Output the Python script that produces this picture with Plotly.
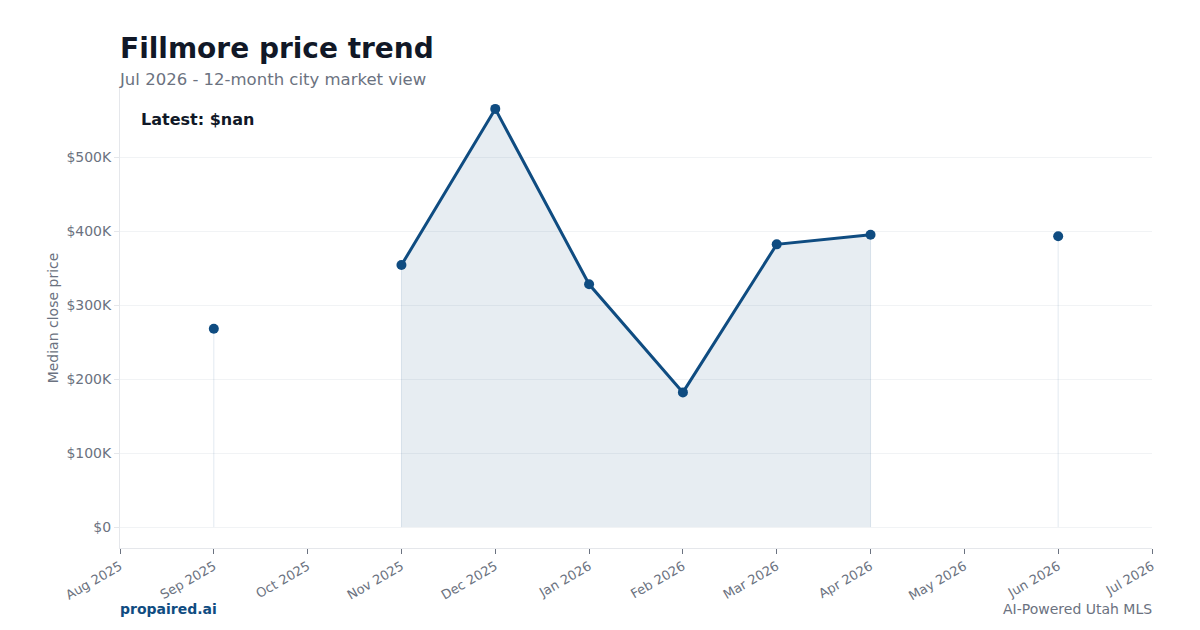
import plotly.graph_objects as go

months = ["Aug 2025", "Sep 2025", "Oct 2025", "Nov 2025", "Dec 2025", "Jan 2026",
          "Feb 2026", "Mar 2026", "Apr 2026", "May 2026", "Jun 2026", "Jul 2026"]
median_price = [None, 268000, None, 354000, 565000, 328000,
                182000, 382000, 395000, None, 393000, None]
latest_label = "Latest: $nan"

LINE = "#0f4c81"
FILL = "rgba(15,76,129,0.10)"
EDGE = "rgba(15,76,129,0.12)"
GRID = "#f1f3f5"
AXIS = "#e5e7eb"
TICK = "#6b7280"
FONT = "DejaVu Sans"

vals = [v for v in median_price if v is not None]
ymax = max(vals)

# contiguous runs of non-missing values
runs, cur = [], []
for m, v in zip(months, median_price):
    if v is None:
        if cur:
            runs.append(cur)
        cur = []
    else:
        cur.append((m, v))
if cur:
    runs.append(cur)

fig = go.Figure()
for run in runs:
    xs = [m for m, _ in run]
    ys = [v for _, v in run]
    if len(run) == 1:
        fig.add_trace(go.Scatter(
            x=[xs[0], xs[0]], y=[0, ys[0]], mode="lines",
            line=dict(color=EDGE, width=1), hoverinfo="skip", showlegend=False))
    else:
        fig.add_trace(go.Scatter(
            x=xs, y=ys, mode="lines", fill="tozeroy", fillcolor=FILL,
            line=dict(color="rgba(0,0,0,0)", width=0), hoverinfo="skip", showlegend=False))
        for xe, ye in ((xs[0], ys[0]), (xs[-1], ys[-1])):
            fig.add_trace(go.Scatter(
                x=[xe, xe], y=[0, ye], mode="lines",
                line=dict(color=EDGE, width=1), hoverinfo="skip", showlegend=False))

fig.add_trace(go.Scatter(
    x=months, y=median_price, mode="lines+markers",
    line=dict(color=LINE, width=3), marker=dict(color=LINE, size=10),
    connectgaps=False, showlegend=False))

fig.update_layout(
    width=1200, height=630,
    margin=dict(l=120, r=48, t=88, b=82),
    paper_bgcolor="white", plot_bgcolor="white",
    font=dict(family=FONT, color=TICK, size=13),
    xaxis=dict(type="category", categoryorder="array", categoryarray=months,
               range=[0, len(months) - 1], tickangle=-30,
               showgrid=False, showline=True, linecolor=AXIS, linewidth=1,
               ticks="outside", ticklen=5, tickcolor=TICK,
               tickfont=dict(size=13, color=TICK), zeroline=False),
    yaxis=dict(range=[-0.05 * ymax, 1.05 * ymax], tickvals=[0, 100000, 200000, 300000, 400000, 500000],
               ticktext=["$0", "$100K", "$200K", "$300K", "$400K", "$500K"],
               showgrid=True, gridcolor=GRID, gridwidth=1,
               showline=True, linecolor=AXIS, linewidth=1,
               ticks="outside", ticklen=5, tickcolor=AXIS,
               tickfont=dict(size=14, color=TICK), zeroline=False,
               title=dict(text="Median close price", font=dict(size=14, color=TICK), standoff=4)),
    annotations=[
        dict(text="<b>Fillmore price trend</b>", xref="paper", yref="paper",
             x=0, y=1, xshift=-2, yshift=21, xanchor="left", yanchor="bottom", showarrow=False,
             font=dict(size=28, color="#111827", family=FONT)),
        dict(text="Jul 2026 - 12-month city market view", xref="paper", yref="paper",
             x=0, y=1, xshift=-3, yshift=-3, xanchor="left", yanchor="bottom", showarrow=False,
             font=dict(size=16.5, color=TICK, family=FONT)),
        dict(text="<b>" + latest_label + "</b>", xref="paper", yref="paper",
             x=0, y=1, xshift=19, yshift=-31, xanchor="left", yanchor="middle", showarrow=False,
             font=dict(size=16, color="#111827", family=FONT)),
        dict(text="<b>propaired.ai</b>", xref="paper", yref="paper",
             x=0, y=0, xshift=-2, yshift=-61, xanchor="left", yanchor="middle", showarrow=False,
             font=dict(size=14, color=LINE, family=FONT)),
        dict(text="AI-Powered Utah MLS", xref="paper", yref="paper",
             x=1, y=0, xshift=2, yshift=-61, xanchor="right", yanchor="middle", showarrow=False,
             font=dict(size=14, color=TICK, family=FONT)),
    ],
)

fig.write_html("out.html")
